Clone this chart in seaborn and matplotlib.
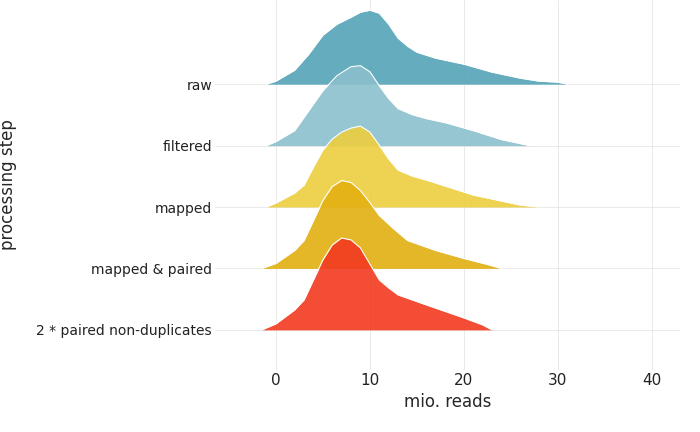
import matplotlib.pyplot as plt
import numpy as np
import pandas as pd
import seaborn as sns

steps = ["2 * paired non-duplicates", "mapped & paired", "mapped", "filtered", "raw"]
colors = ["#F2391F", "#E2B012", "#EDCE3F", "#8BC0CD", "#53A3B7"]

# ridge profiles: x in mio. reads, height in px of the 61.5px row
raw_x = [-1, 0, 2, 3.5, 5, 6.5, 8, 9, 10, 11, 12, 13, 14, 15, 17, 20, 23, 26, 28, 30, 31]
raw_h = [0, 3, 14, 30, 49, 60, 67, 72, 74, 71, 60, 46, 38, 32, 26, 20, 12, 6, 3, 2, 0]
filt_x = [-1, 0, 2, 3.5, 5, 6.5, 8, 9, 10, 11, 12, 13, 14.5, 16, 18, 21, 24, 26, 27]
filt_h = [0, 4, 15, 35, 55, 70, 79, 80, 74, 60, 47, 37, 31, 27, 23, 15, 6, 2, 0]
map_x = [-1, 0, 2, 3, 4, 5, 6, 7, 8, 9, 10, 11, 12, 13, 14.5, 16, 18, 21, 24, 26, 28]
map_h = [0, 4, 14, 22, 40, 57, 68, 75, 79, 81, 75, 62, 48, 37, 31, 27, 21, 12, 6, 2, 0]
pair_x = [-1.5, 0, 2, 3, 4, 5, 6, 7, 8, 9, 10, 11, 12.5, 14, 17, 20, 22.5, 24]
pair_h = [0, 5, 18, 28, 48, 68, 82, 88, 86, 78, 66, 53, 40, 28, 18, 10, 4, 0]
dup_x = [-1.5, 0, 2, 3, 4, 5, 6, 7, 8, 9, 10, 11, 12, 13, 16, 20, 22, 23]
dup_h = [0, 6, 20, 30, 50, 70, 85, 92, 90, 82, 66, 50, 42, 35, 25, 12, 5, 0]

profiles = [(dup_x, dup_h), (pair_x, pair_h), (map_x, map_h), (filt_x, filt_h), (raw_x, raw_h)]
row_px = 61.5

sns.set_theme(style="whitegrid")
fig, ax = plt.subplots(figsize=(7, 4.32), dpi=100)
fig.subplots_adjust(left=0.307, right=0.971, bottom=0.144, top=1.0)

# draw top row first so lower rows overlap it
for i in range(len(steps) - 1, -1, -1):
    xs, hs = profiles[i]
    base = i + 1
    df = pd.DataFrame({"x": xs, "y": base + np.array(hs) / row_px})
    ax.fill_between(df["x"], base, df["y"], color=colors[i], alpha=0.9, lw=0, zorder=10 - i)
    sns.lineplot(data=df, x="x", y="y", color="white", lw=0.8, ax=ax, zorder=10 - i, sort=False)

ax.set_xlim(-6.5, 43)
ax.set_ylim(0.35, 6.37)
ax.set_xticks([0, 10, 20, 30, 40])
ax.set_yticks(range(1, 6))
ax.set_yticklabels(steps)
ax.tick_params(axis="both", labelsize=10, colors="#222222", length=0, pad=2)
ax.tick_params(axis="x", labelsize=11)
ax.grid(color="#E5E5E5", lw=0.6)
ax.set_xlabel("mio. reads", fontsize=12)
ax.set_ylabel("processing step", fontsize=12, labelpad=14)
for s in ax.spines.values():
    s.set_visible(False)
ax.set_facecolor("white")

plt.savefig("out.png")
plt.close()
